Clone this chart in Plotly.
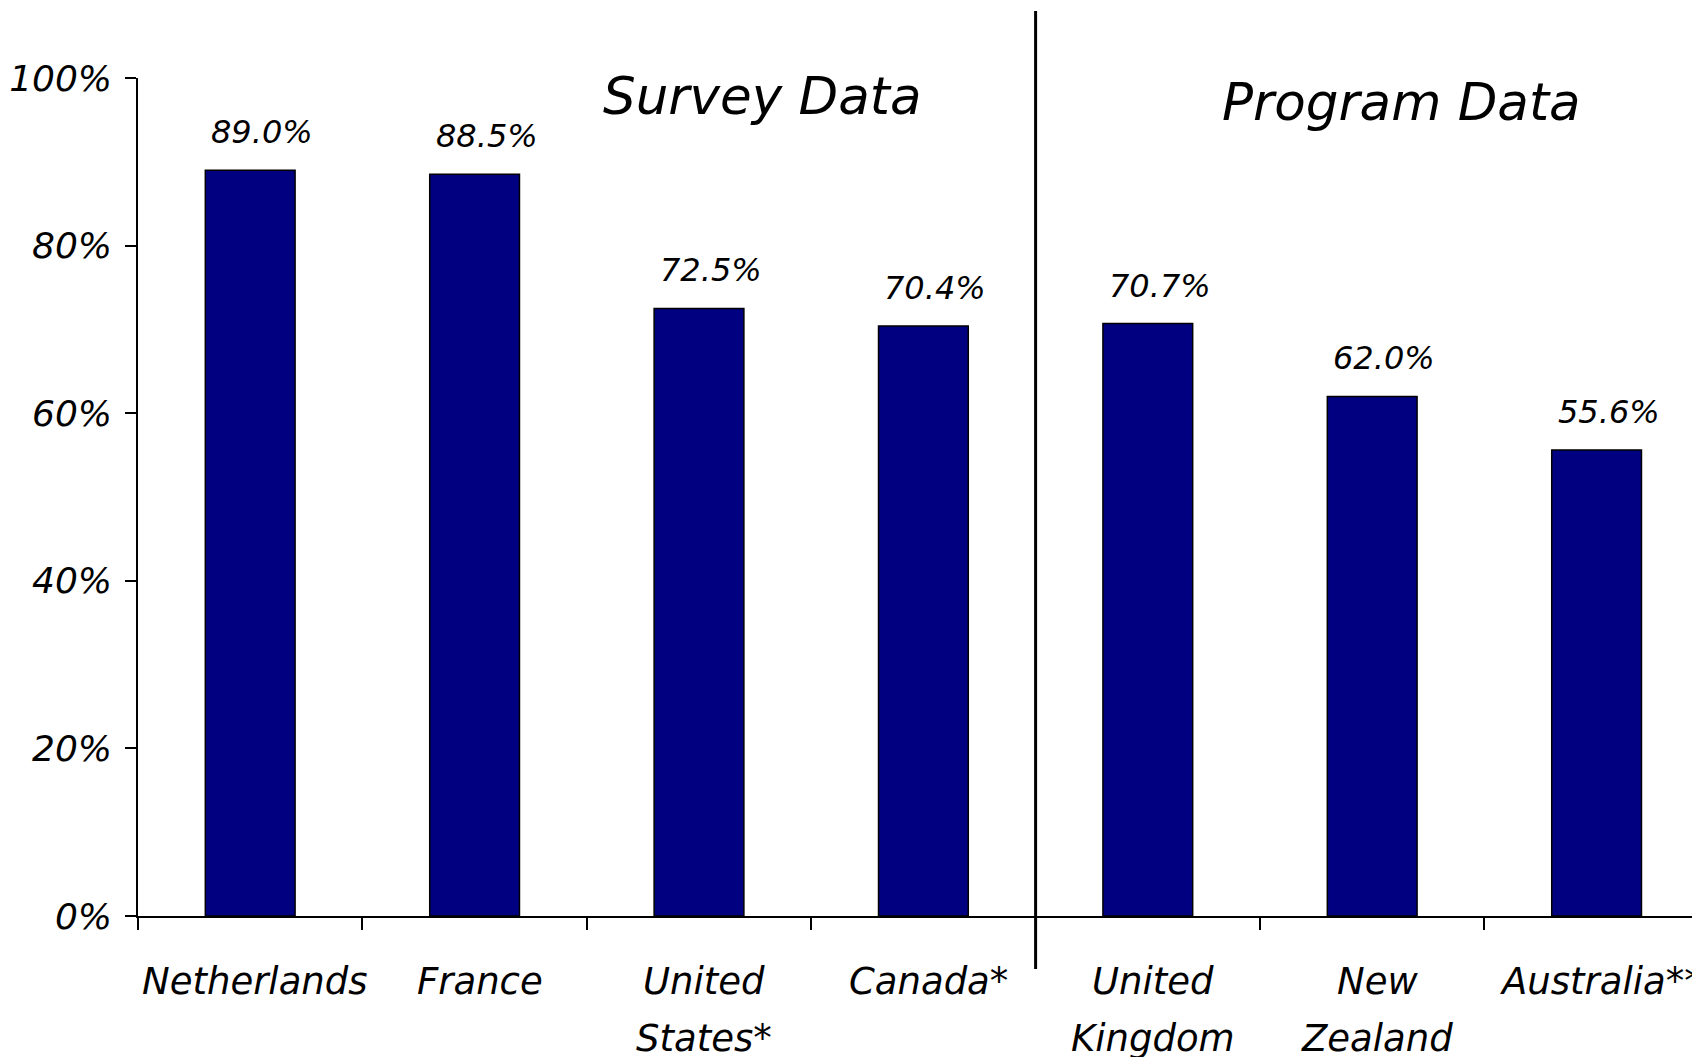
import plotly.graph_objects as go

countries = ["Netherlands", "France", "United<br>States*", "Canada*",
             "United<br>Kingdom", "New<br>Zealand", "Australia**"]
values = [89.0, 88.5, 72.5, 70.4, 70.7, 62.0, 55.6]
value_labels = ["89.0%", "88.5%", "72.5%", "70.4%", "70.7%", "62.0%", "55.6%"]
group_titles = ["Survey Data", "Program Data"]
y_ticks = [0, 20, 40, 60, 80, 100]
y_tick_labels = ["0%", "20%", "40%", "60%", "80%", "100%"]

FONT = "DejaVu Sans"
OFF = 8  # page body margin
W, H = 1700 - OFF, 1057 - OFF
ML, MR, MT, MB = 130, 0, 78 - OFF, 141
plot_h = H - MT - MB
cat_w = 224.4
x_max = -0.5 + (W - ML - MR) / cat_w


def py(page_y):
    """page pixel y -> paper coordinate"""
    return (MT + plot_h - (page_y - OFF)) / plot_h


x_idx = list(range(len(countries)))

fig = go.Figure()
fig.add_trace(go.Bar(
    x=x_idx, y=values, width=0.4,
    marker=dict(color="#000080", line=dict(color="black", width=1.5)),
    hoverinfo="skip",
))

annotations = []
for i, (v, t) in enumerate(zip(values, value_labels)):
    annotations.append(dict(
        x=i, y=v, xref="x", yref="y", text=t, showarrow=False,
        xanchor="center", yanchor="middle", xshift=12, yshift=38,
        font=dict(family=FONT, size=32, color="black", style="italic"),
    ))
for i, c in enumerate(countries):
    for j, line in enumerate(c.split("<br>")):
        annotations.append(dict(
            x=i, y=0, xref="x", yref="paper", text=line, showarrow=False,
            xanchor="center", yanchor="middle", xshift=5, yshift=-65 - 57 * j,
            font=dict(family=FONT, size=37, color="black", style="italic"),
        ))
title_pos = [(2.28, 96), (5.13, 102)]
for t, (xc, ypx) in zip(group_titles, title_pos):
    annotations.append(dict(
        x=xc, y=py(ypx), xref="x", yref="paper", text=t,
        showarrow=False, xanchor="center", yanchor="middle",
        font=dict(family=FONT, size=51.5, color="black", style="italic"),
    ))

fig.add_shape(type="line", xref="x", yref="paper",
              x0=3.5, x1=3.5, y0=py(969), y1=py(11),
              line=dict(color="black", width=3))

fig.update_layout(
    width=W, height=H,
    margin=dict(l=ML, r=MR, t=MT, b=MB, pad=0),
    paper_bgcolor="white", plot_bgcolor="white",
    showlegend=False,
    annotations=annotations,
    xaxis=dict(
        range=[-0.5, x_max], tickmode="array",
        tickvals=[i - 0.5 for i in range(len(countries) + 1)],
        showticklabels=False, ticks="outside", ticklen=12, tickwidth=1.5,
        tickcolor="black", showline=True, linecolor="black", linewidth=1.5,
        showgrid=False, zeroline=False,
    ),
    yaxis=dict(
        range=[0, 100], tickmode="array", tickvals=y_ticks, ticktext=y_tick_labels,
        ticks="outside", ticklen=11, tickwidth=1.5, tickcolor="black",
        showline=True, linecolor="black", linewidth=1.5,
        showgrid=False, zeroline=False, ticklabelstandoff=6,
        tickfont=dict(family=FONT, size=36, color="black", style="italic"),
    ),
)

fig.write_html("out.html")
